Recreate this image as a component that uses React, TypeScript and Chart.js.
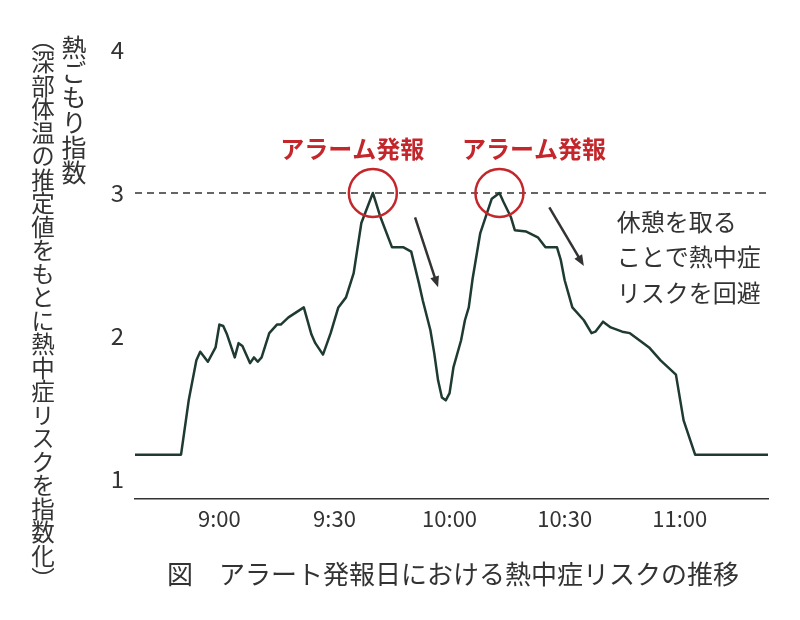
import { useEffect, useRef } from "react"
import { Chart, registerables } from "chart.js"

Chart.register(...registerables)

const FONT = '"Noto Sans CJK JP", "Noto Sans", sans-serif'
const TEXT = "#333333"
const LINE = "#1e3a33"
const RED = "#c3262b"

// readings of the heat index over the day (h:mm)
const times = [
  "8:38", "8:50", "8:52", "8:54", "8:55", "8:57", "8:59", "9:00", "9:01", "9:02",
  "9:04", "9:05", "9:06", "9:08", "9:09", "9:10", "9:11", "9:13", "9:15", "9:16",
  "9:18", "9:22", "9:24", "9:25", "9:27", "9:29", "9:31", "9:33", "9:35", "9:37",
  "9:40", "9:42", "9:45", "9:48", "9:50", "9:51", "9:52", "9:53", "9:55", "9:56",
  "9:57", "9:58", "9:59", "10:00", "10:01", "10:03", "10:04", "10:05", "10:06", "10:08",
  "10:10", "10:11", "10:13", "10:14", "10:16", "10:17", "10:20", "10:23", "10:25", "10:28",
  "10:29", "10:30", "10:32", "10:35", "10:37", "10:38", "10:40", "10:42", "10:45", "10:47",
  "10:50", "10:52", "10:55", "10:59", "11:01", "11:04", "11:23",
]
const heatIndex = [
  1.17, 1.17, 1.55, 1.83, 1.89, 1.82, 1.92, 2.08, 2.07, 2.01,
  1.85, 1.95, 1.93, 1.81, 1.85, 1.82, 1.85, 2.02, 2.08, 2.08,
  2.13, 2.2, 2.01, 1.95, 1.87, 2.02, 2.2, 2.27, 2.44, 2.79,
  3.0, 2.83, 2.62, 2.62, 2.59, 2.48, 2.37, 2.25, 2.04, 1.88,
  1.69, 1.57, 1.55, 1.6, 1.78, 1.97, 2.11, 2.2, 2.4, 2.72,
  2.88, 2.96, 3.0, 2.94, 2.83, 2.74, 2.73, 2.69, 2.62, 2.62,
  2.53, 2.39, 2.2, 2.11, 2.02, 2.03, 2.1, 2.06, 2.03, 2.02,
  1.96, 1.92, 1.83, 1.73, 1.41, 1.17, 1.17,
]

const alarmTimes = ["9:40", "10:13"]
const alarmValues = [3, 3]
const threshold = 3

const xTicks = ["9:00", "9:30", "10:00", "10:30", "11:00"]
const yTicks = [1, 2, 3, 4]
const axisStart = "8:38"
const axisEnd = "11:23"

const alarmLabel = "アラーム発報"
const noteLines = ["休憩を取る", "ことで熱中症", "リスクを回避"]
const yTitle = "熱ごもり指数"
const ySubtitle = "（深部体温の推定値をもとに熱中症リスクを指数化）"
const caption = "図　アラート発報日における熱中症リスクの推移"

const toMin = (s: string) => {
  const [h, m] = s.split(":").map(Number)
  return h * 60 + m
}
const fmt = (v: number) => `${Math.floor(v / 60)}:${String(v % 60).padStart(2, "0")}`

const drawArrow = (ctx: CanvasRenderingContext2D, x1: number, y1: number, x2: number, y2: number) => {
  const a = Math.atan2(y2 - y1, x2 - x1)
  const head = 11
  ctx.beginPath()
  ctx.moveTo(x1, y1)
  ctx.lineTo(x2 - Math.cos(a) * head * 0.6, y2 - Math.sin(a) * head * 0.6)
  ctx.stroke()
  ctx.beginPath()
  ctx.moveTo(x2, y2)
  ctx.lineTo(x2 - head * Math.cos(a) + 4.5 * Math.sin(a), y2 - head * Math.sin(a) - 4.5 * Math.cos(a))
  ctx.lineTo(x2 - head * Math.cos(a) - 4.5 * Math.sin(a), y2 - head * Math.sin(a) + 4.5 * Math.cos(a))
  ctx.closePath()
  ctx.fill()
}

// labels and arrows, placed in data coordinates
const notesPlugin = {
  id: "notes",
  afterDatasetsDraw(chart: Chart) {
    const { ctx } = chart
    const x = chart.scales.x
    const y = chart.scales.y
    ctx.save()

    ctx.strokeStyle = TEXT
    ctx.fillStyle = TEXT
    ctx.lineWidth = 2.5
    drawArrow(ctx, x.getPixelForValue(591), y.getPixelForValue(2.83), x.getPixelForValue(597), y.getPixelForValue(2.34))
    drawArrow(ctx, x.getPixelForValue(626), y.getPixelForValue(2.9), x.getPixelForValue(635), y.getPixelForValue(2.49))

    ctx.font = `bold 24px ${FONT}`
    ctx.fillStyle = RED
    ctx.textAlign = "center"
    ctx.textBaseline = "middle"
    ctx.fillText(alarmLabel, x.getPixelForValue(574.6), y.getPixelForValue(3.31))
    ctx.fillText(alarmLabel, x.getPixelForValue(622), y.getPixelForValue(3.31))

    ctx.font = `24px ${FONT}`
    ctx.fillStyle = TEXT
    ctx.textAlign = "left"
    noteLines.forEach((line, i) => {
      ctx.fillText(line, x.getPixelForValue(643.6), y.getPixelForValue(2.8 - i * 0.25))
    })
    ctx.restore()
  },
}

export default function App() {
  const canvasRef = useRef<HTMLCanvasElement>(null)

  useEffect(() => {
    if (!canvasRef.current) return
    Chart.defaults.font.family = FONT

    const chart = new Chart(canvasRef.current, {
      type: "line",
      data: {
        datasets: [
          {
            label: "alarm",
            data: alarmTimes.map((t, i) => ({ x: toMin(t), y: alarmValues[i] })),
            showLine: false,
            pointRadius: 24,
            pointBorderWidth: 2.5,
            pointBorderColor: RED,
            pointBackgroundColor: "rgba(0,0,0,0)",
          },
          {
            label: "heat",
            data: times.map((t, i) => ({ x: toMin(t), y: heatIndex[i] })),
            borderColor: LINE,
            borderWidth: 2.5,
            pointRadius: 0,
            tension: 0,
            borderJoinStyle: "round",
          },
          {
            label: "threshold",
            data: [
              { x: toMin(axisStart), y: threshold },
              { x: toMin(axisEnd), y: threshold },
            ],
            borderColor: TEXT,
            borderWidth: 1.5,
            borderDash: [7, 5],
            pointRadius: 0,
          },
        ],
      },
      options: {
        animation: false,
        responsive: false,
        layout: { padding: { top: 50, right: 32, left: 0, bottom: 0 } },
        plugins: {
          legend: { display: false },
          tooltip: { enabled: false },
        },
        scales: {
          x: {
            type: "linear",
            min: toMin(axisStart),
            max: toMin(axisEnd),
            afterBuildTicks: (s: any) => {
              s.ticks = xTicks.map((t) => ({ value: toMin(t) }))
            },
            afterFit: (s: any) => {
              s.height = 121
            },
            grid: { display: false, drawTicks: false },
            border: { display: true, color: TEXT, width: 1.5 },
            ticks: {
              color: TEXT,
              font: { size: 22 },
              padding: 6,
              maxRotation: 0,
              autoSkip: false,
              callback: (v: any) => fmt(Number(v)),
            },
          },
          y: {
            min: 0.86,
            max: 4,
            afterBuildTicks: (s: any) => {
              s.ticks = yTicks.map((v) => ({ value: v }))
            },
            afterFit: (s: any) => {
              s.width = 135
            },
            grid: { display: false, drawTicks: false },
            border: { display: false },
            ticks: { color: TEXT, font: { size: 24 }, padding: 11 },
          },
        },
      },
      plugins: [notesPlugin],
    })

    return () => chart.destroy()
  }, [])

  return (
    <div style={{ position: "fixed", left: 0, top: 0, width: 800, height: 620, background: "#fff", fontFamily: FONT, color: TEXT }}>
      <canvas ref={canvasRef} width={800} height={620} style={{ position: "absolute", left: 0, top: 0 }} />
      <div style={{ position: "absolute", left: 61, top: 35, writingMode: "vertical-rl", fontSize: 25, lineHeight: "25px" }}>
        {yTitle}
      </div>
      <div style={{ position: "absolute", left: 31, top: 27, writingMode: "vertical-rl", fontSize: 23.5, lineHeight: "24px" }}>
        {ySubtitle}
      </div>
      <div style={{ position: "absolute", left: 453, top: 560, transform: "translateX(-50%)", whiteSpace: "nowrap", fontSize: 26, lineHeight: "26px" }}>
        {caption}
      </div>
    </div>
  )
}
